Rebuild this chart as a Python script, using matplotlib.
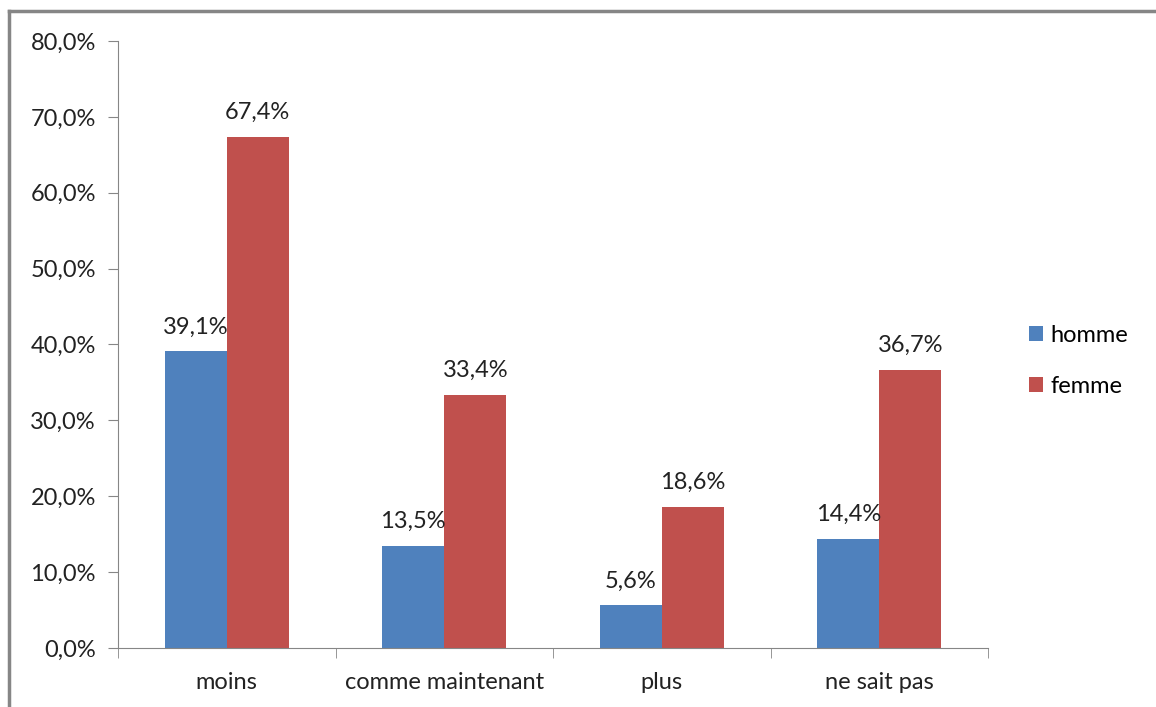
import numpy as np
import matplotlib.pyplot as plt
from matplotlib.lines import Line2D
from matplotlib.ticker import FuncFormatter

plt.rcParams['font.family'] = ['Lato', 'DejaVu Sans']

categories = ['moins', 'comme maintenant', 'plus', 'ne sait pas']
homme = [39.1, 13.5, 5.6, 14.4]
femme = [67.4, 33.4, 18.6, 36.7]
series_names = ['homme', 'femme']

bleu = '#4f81bd'
rouge = '#c0504d'
fs = 17

fig = plt.figure(figsize=(11.56, 7.07), dpi=100)
ax = fig.add_axes([0.1021, 0.0835, 0.7526, 0.8585])

x = np.arange(len(categories))
w = 0.2857
b1 = ax.bar(x - w / 2, homme, w, color=bleu, label=series_names[0])
b2 = ax.bar(x + w / 2, femme, w, color=rouge, label=series_names[1])

# etiquettes de valeurs au-dessus des barres
for bars, vals in ((b1, homme), (b2, femme)):
    for r, v in zip(bars, vals):
        ax.annotate(('%.1f%%' % v).replace('.', ','),
                    (r.get_x() + r.get_width() / 2, v),
                    xytext=(0, 10), textcoords='offset points',
                    ha='center', va='bottom', fontsize=fs, color='#222222')

ax.set_xlim(-0.5, len(categories) - 0.5)
ax.set_ylim(0, 80)
ax.set_yticks(np.arange(0, 81, 10))
ax.yaxis.set_major_formatter(FuncFormatter(lambda v, p: ('%.1f%%' % v).replace('.', ',')))

ax.set_xticks(x)
ax.set_xticklabels(categories)
ax.set_xticks(np.arange(-0.5, len(categories), 1), minor=True)
ax.tick_params(axis='x', which='major', length=0, pad=17, labelsize=fs, colors='#222222')
ax.tick_params(axis='x', which='minor', length=7, color='#868686', direction='out')
ax.tick_params(axis='y', length=7, color='#868686', labelsize=fs, labelcolor='#222222', pad=9)

for s in ['top', 'right']:
    ax.spines[s].set_visible(False)
for s in ['left', 'bottom']:
    ax.spines[s].set_color('#868686')

fig.legend(handles=[b1, b2], labels=series_names, loc='center left',
           bbox_to_anchor=(1029 / 1156, 1 - 361 / 707), bbox_transform=fig.transFigure,
           frameon=False, fontsize=fs, handlelength=0.6, handleheight=0.6,
           handletextpad=0.3, labelspacing=1.25, borderpad=0, borderaxespad=0)

# cadre du graphique
fig.add_artist(Line2D([9 / 1156, 9 / 1156], [0, 1 - 11 / 707], color='#868686', lw=2.5))
fig.add_artist(Line2D([9 / 1156, 1], [1 - 11 / 707, 1 - 11 / 707], color='#868686', lw=2.5))

fig.savefig('out.png', dpi=100)
